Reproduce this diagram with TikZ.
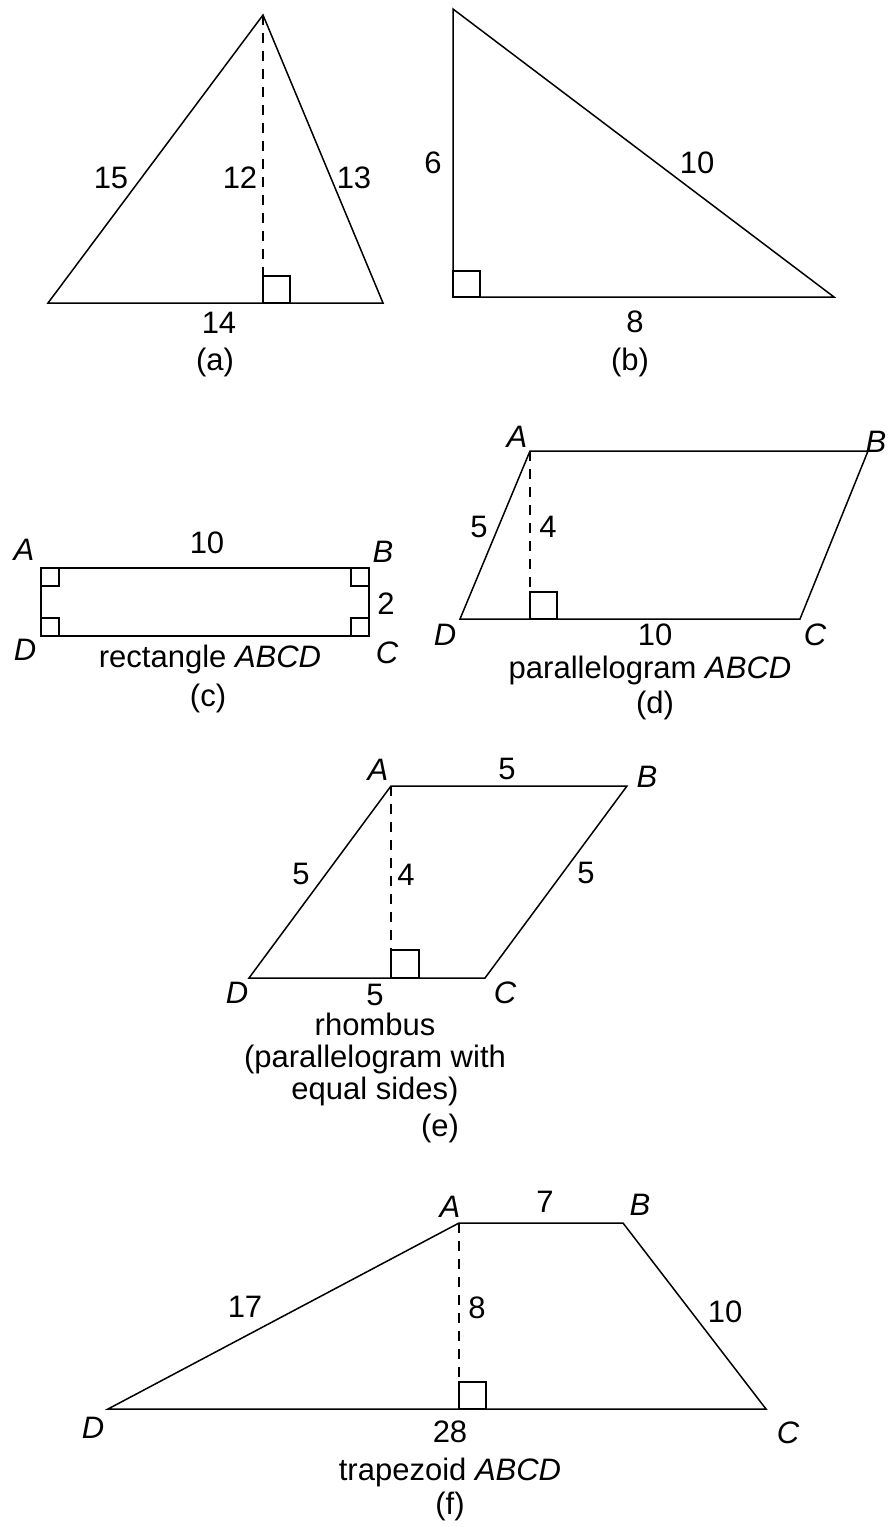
\documentclass[tikz,border=0pt]{standalone}
\usepackage{fontspec}
\setmainfont{Liberation Sans}
\newcommand{\schrift}{\fontsize{31}{32}\selectfont}
\tikzset{
  linie/.style={line width=1.5pt, line join=miter},
  lot/.style={line width=1.5pt, dash pattern=on 10pt off 8pt},
  winkel/.style={line width=1.3pt},
  zahl/.style={inner sep=0pt, font=\schrift},
  ecke/.style={inner sep=0pt, font=\schrift\itshape},
  titel/.style={inner sep=0pt, font=\schrift, align=center},
}

\begin{document}
\begin{tikzpicture}[x=1pt, y=-1pt]
    \useasboundingbox (0,0) rectangle (888,1527);
    % (a)
    \coordinate (aS) at (263,15);
    \coordinate (aL) at (48,303);
    \coordinate (aR) at (383,303);
    \coordinate (aF) at (263,303);
    \draw[linie] (aL) -- (aS) -- (aR) -- cycle;
    \draw[lot] (aS) -- (aF);
    \draw[winkel] (aF) rectangle ++(27,-27);
    \node[zahl] (a15) at (111,178) {15};
    \node[zahl] (a12) at (240,178) {12};
    \node[zahl] (a13) at (354,178) {13};
    \node[zahl] (a14) at (219,323) {14};
    \node[titel] (aT) at (215,362) {(a)};
    % (b)
    \coordinate (bO) at (453,9);
    \coordinate (bL) at (453,297);
    \coordinate (bR) at (834,297);
    \draw[linie] (bO) -- (bL) -- (bR) -- cycle;
    \draw[winkel] (bL) rectangle ++(27,-26);
    \node[zahl] (b6) at (433,163) {6};
    \node[zahl] (b10) at (697,163) {10};
    \node[zahl] (b8) at (635,322) {8};
    \node[titel] (bT) at (630,362) {(b)};
    % (c)
    \coordinate (cA) at (41,568);
    \coordinate (cB) at (369,568);
    \coordinate (cC) at (369,636);
    \coordinate (cD) at (41,636);
    \draw[linie] (cA) -- (cB) -- (cC) -- (cD) -- cycle;
    \draw[winkel] (cA) rectangle ++(18,18);
    \draw[winkel] (cB) rectangle ++(-18,18);
    \draw[winkel] (cC) rectangle ++(-18,-18);
    \draw[winkel] (cD) rectangle ++(18,-18);
    \node[ecke] (cLA) at (24,550) {A};
    \node[ecke] (cLB) at (383,552) {B};
    \node[ecke] (cLC) at (387,653) {C};
    \node[ecke] (cLD) at (25,650) {D};
    \node[zahl] (c10) at (207,543) {10};
    \node[zahl] (c2) at (386,604) {2};
    \node[titel] (cN) at (210,659) {rectangle \textit{ABCD}};
    \node[titel] (cT) at (208,698) {(c)};
    % (d)
    \coordinate (dA) at (530,451);
    \coordinate (dB) at (868,451);
    \coordinate (dC) at (800,619);
    \coordinate (dD) at (460,619);
    \coordinate (dF) at (530,619);
    \draw[linie] (dA) -- (dB) -- (dC) -- (dD) -- cycle;
    \draw[lot] (dA) -- (dF);
    \draw[winkel] (dF) rectangle ++(27,-27);
    \node[ecke] (dLA) at (517,437) {A};
    \node[ecke] (dLB) at (876,442) {B};
    \node[ecke] (dLC) at (815,635) {C};
    \node[ecke] (dLD) at (445,635) {D};
    \node[zahl] (d5) at (479,527) {5};
    \node[zahl] (d4) at (548,527) {4};
    \node[zahl] (d10) at (655,635) {10};
    \node[titel] (dN) at (650,670) {parallelogram \textit{ABCD}};
    \node[titel] (dT) at (655,705) {(d)};
    % (e)
    \coordinate (eA) at (391,786);
    \coordinate (eB) at (627,786);
    \coordinate (eC) at (485,978);
    \coordinate (eD) at (249,978);
    \coordinate (eF) at (391,978);
    \draw[linie] (eA) -- (eB) -- (eC) -- (eD) -- cycle;
    \draw[lot] (eA) -- (eF);
    \draw[winkel] (eF) rectangle ++(28,-28);
    \node[ecke] (eLA) at (378,770) {A};
    \node[ecke] (eLB) at (647,777) {B};
    \node[ecke] (eLC) at (505,993) {C};
    \node[ecke] (eLD) at (237,993) {D};
    \node[zahl] (eO) at (507,769) {5};
    \node[zahl] (eL) at (301,874) {5};
    \node[zahl] (eH) at (406,875) {4};
    \node[zahl] (eR) at (586,873) {5};
    \node[zahl] (eU) at (375,995) {5};
    \node[titel] (eN) at (375,1059) {rhombus\\(parallelogram with\\equal sides)};
    \node[titel] (eT) at (440,1128) {(e)};
    % (f)
    \coordinate (fA) at (459,1223);
    \coordinate (fB) at (623,1223);
    \coordinate (fC) at (766,1409);
    \coordinate (fD) at (108,1409);
    \coordinate (fF) at (459,1409);
    \draw[linie] (fA) -- (fB) -- (fC) -- (fD) -- cycle;
    \draw[lot] (fA) -- (fF);
    \draw[winkel] (fF) rectangle ++(27,-27);
    \node[ecke] (fLA) at (450,1207) {A};
    \node[ecke] (fLB) at (640,1205) {B};
    \node[ecke] (fLC) at (788,1433) {C};
    \node[ecke] (fLD) at (93,1428) {D};
    \node[zahl] (f7) at (545,1202) {7};
    \node[zahl] (f17) at (245,1307) {17};
    \node[zahl] (f8) at (477,1308) {8};
    \node[zahl] (f10) at (725,1312) {10};
    \node[zahl] (f28) at (450,1432) {28};
    \node[titel] (fN) at (450,1472) {trapezoid \textit{ABCD}};
    \node[titel] (fT) at (450,1506) {(f)};
\end{tikzpicture}
\end{document}
